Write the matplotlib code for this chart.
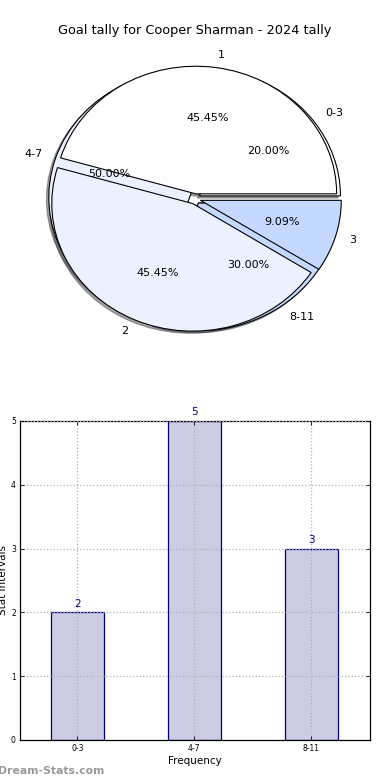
import matplotlib
matplotlib.use("Agg")
import matplotlib.pyplot as plt

title = "Goal tally for Cooper Sharman - 2024 tally"
interval_labels = ["0-3", "4-7", "8-11"]
interval_values = [2, 5, 3]
tally_labels = ["1", "2", "3"]
tally_values = [5, 5, 1]

pie_colors = ["#ffffff", "#ebf1ff", "#c5d8ff"]
bar_face = "#ccccE4"
bar_edge = "#00007f"

fig = plt.figure(figsize=(3.9, 7.8), dpi=100)

# Pie chart
axp = fig.add_axes([0.0485, 0.5405, 0.903, 0.409])
shadow_opts = {"ox": -0.012, "oy": -0.012}
axp.pie(interval_values, labels=interval_labels, colors=pie_colors,
        autopct="%.2f%%", explode=[0.04] * 3, shadow=shadow_opts,
        wedgeprops=dict(edgecolor="black", linewidth=0.8),
        textprops=dict(fontsize=8))
axp.pie(tally_values, labels=tally_labels, colors=pie_colors,
        autopct="%.2f%%", explode=[0.04] * 3, shadow=shadow_opts,
        wedgeprops=dict(edgecolor="black", linewidth=0.8),
        textprops=dict(fontsize=8))
axp.set_aspect("auto")
axp.set_xlim(-1.25, 1.25)
axp.set_ylim(-1.25, 1.25)
fig.text(0.5, 0.961, title, ha="center", va="center", fontsize=9.3)

# Bar chart
axb = fig.add_axes([0.0513, 0.0513, 0.897, 0.409])
x = list(range(len(interval_labels)))
bars = axb.bar(x, interval_values, width=0.45, color=bar_face,
               edgecolor=bar_edge, linewidth=0.9, zorder=2)
for xi, v in zip(x, interval_values):
    axb.text(xi, v + 0.06, str(v), ha="center", va="bottom",
             color=bar_edge, fontsize=7.5)
axb.set_xlim(-0.49, 2.5)
axb.set_ylim(0, 5)
axb.set_xticks(x)
axb.set_xticklabels(interval_labels)
axb.set_yticks(range(0, 6))
axb.tick_params(direction="in", top=True, right=True, labelsize=5.5,
                length=3, width=0.6, pad=3)
axb.grid(True, linestyle=":", color="#b0b0b0", linewidth=0.9, zorder=3)
axb.set_axisbelow(False)
for s in axb.spines.values():
    s.set_linewidth(0.9)
axb.set_xlabel("Frequency", fontsize=7.5, labelpad=2)
axb.set_ylabel("Stat Intervals", fontsize=7.5, labelpad=2)
fig.text(-0.005, 0.012, "Dream-Stats.com", ha="left", va="center",
         fontsize=7.8, color="#999999", fontweight="bold")

fig.savefig("out.png", dpi=100)
